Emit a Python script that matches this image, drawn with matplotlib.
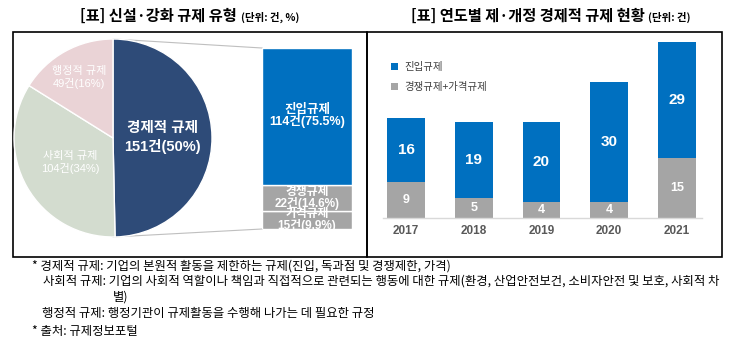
import matplotlib
matplotlib.use('Agg')
import matplotlib.pyplot as plt
from matplotlib.patches import Rectangle
import numpy as np

plt.rcParams['font.family'] = ['Noto Sans CJK KR', 'DejaVu Sans']

# ---------------- data ----------------
pie_labels = ['경제적 규제', '사회적 규제', '행정적 규제']
pie_values = [151, 104, 49]

econ_labels = ['진입규제', '경쟁규제', '가격규제']
econ_values = [114, 22, 15]

years = ['2017', '2018', '2019', '2020', '2021']
entry = [16, 19, 20, 30, 29]
comp_price = [9, 5, 4, 4, 15]
legend_labels = ['진입규제', '경쟁규제+가격규제']

title_left = '[표] 신설·강화 규제 유형'
unit_left = '(단위: 건, %)'
title_right = '[표] 연도별 제·개정 경제적 규제 현황'
unit_right = '(단위: 건)'

notes = [
    '* 경제적 규제: 기업의 본원적 활동을 제한하는 규제(진입, 독과점 및 경쟁제한, 가격)',
    '사회적 규제: 기업의 사회적 역할이나 책임과 직접적으로 관련되는 행동에 대한 규제(환경, 산업안전보건, 소비자안전 및 보호, 사회적 차',
    '별)',
    '행정적 규제: 행정기관이 규제활동을 수행해 나가는 데 필요한 규정',
    '* 출처: 규제정보포털',
]

# ---------------- style ----------------
pie_colors = ['#2E4B78', '#D3DCCF', '#EAD3D6']
blue = '#0070C0'
grey = '#A5A5A5'
num_font = ['Liberation Sans', 'Noto Sans CJK KR']

W, H = 730, 354
fig = plt.figure(figsize=(7.3, 3.54), dpi=100)


def px_axes(x0, y0, x1, y1, **kw):
    return fig.add_axes([x0 / W, 1 - y1 / H, (x1 - x0) / W, (y1 - y0) / H], **kw)


# overlay for boxes, titles, notes
ov = fig.add_axes([0, 0, 1, 1])
ov.set_xlim(0, W)
ov.set_ylim(H, 0)
ov.axis('off')

ov.add_patch(Rectangle((13, 32), 354, 225, fill=False, edgecolor='black', lw=1.2))
ov.add_patch(Rectangle((367, 32), 355, 225, fill=False, edgecolor='black', lw=1.2))

ov.text(237, 16, title_left, ha='right', va='center', fontsize=11, fontweight='bold')
ov.text(241, 17, unit_left, ha='left', va='center', fontsize=7.5, fontweight='bold')
ov.text(645, 16, title_right, ha='right', va='center', fontsize=11, fontweight='bold')
ov.text(648, 17, unit_right, ha='left', va='center', fontsize=7.5, fontweight='bold')

note_pos = [(32, 266), (43, 281), (113, 297), (42, 313), (32, 331)]
for (x, y), t in zip(note_pos, notes):
    ov.text(x, y, t, ha='left', va='center', fontsize=8.9, color='black')

# connector lines
ov.plot([113, 262], [39, 48], color='#BFBFBF', lw=0.8)
ov.plot([113, 262], [237, 229], color='#BFBFBF', lw=0.8)

# ---------------- pie ----------------
pax = px_axes(14, 39, 212, 237)
wedges, _ = pax.pie(pie_values, colors=pie_colors, startangle=90, counterclock=False,
                    wedgeprops=dict(edgecolor='white', linewidth=1))
pax.set_xlim(-1, 1)
pax.set_ylim(-1, 1)
total = sum(pie_values)
label_r = [0.5, 0.5, 0.7]
label_fs = [10.5, 8, 8]
label_fw = ['bold', 'normal', 'normal']
for w, lab, v, r, fs, fw in zip(wedges, pie_labels, pie_values, label_r, label_fs, label_fw):
    ang = np.deg2rad((w.theta1 + w.theta2) / 2)
    pax.text(r * np.cos(ang), r * np.sin(ang), f'{lab}\n{v}건({v / total * 100:.0f}%)',
             ha='center', va='center', color='white', fontsize=fs, fontweight=fw,
             linespacing=1.3, family=num_font)

# ---------------- bar of pie ----------------
bax = px_axes(262, 48, 352, 229)
etotal = sum(econ_values)
bottom = 0
seg_colors = [blue, grey, grey]
seg_fs = [9, 8.5, 8.5]
for lab, v, c, fs in reversed(list(zip(econ_labels, econ_values, seg_colors, seg_fs))):
    bax.bar(0, v, bottom=bottom, width=1, color=c, edgecolor='white', lw=1)
    bax.text(0, bottom + v / 2, f'{lab}\n{v}건({v / etotal * 100:.1f}%)', ha='center',
             va='center', color='white', fontsize=fs, fontweight='bold', linespacing=0.85,
             clip_on=True, family=num_font)
    bottom += v
bax.set_xlim(-0.5, 0.5)
bax.set_ylim(0, etotal)
bax.axis('off')

# ---------------- yearly bars ----------------
rax = px_axes(383, 38, 702, 218)
x = np.arange(len(years))
b2 = rax.bar(x, comp_price, width=0.56, color=grey)
b1 = rax.bar(x, entry, width=0.56, bottom=comp_price, color=blue)
for xi, a, b in zip(x, comp_price, entry):
    rax.text(xi, a / 2, str(a), ha='center', va='center', color='white', fontsize=9,
             fontweight='bold', family=num_font)
    rax.text(xi, a + b / 2, str(b), ha='center', va='center', color='white', fontsize=11,
             fontweight='bold', family=num_font)
rax.set_xlim(-0.34, 4.37)
rax.set_ylim(0, 45)
rax.set_xticks(x)
rax.set_xticklabels(years, fontsize=8.5, fontweight='bold', color='#595959', family=num_font)
rax.set_yticks([])
rax.tick_params(axis='x', length=0, pad=5)
for s in ['top', 'left', 'right']:
    rax.spines[s].set_visible(False)
rax.spines['bottom'].set_color('#D9D9D9')
rax.spines['bottom'].set_linewidth(1)
rax.patch.set_alpha(0)
leg = rax.legend([b1, b2], legend_labels, loc='upper left',
                 bbox_to_anchor=(391 / W, 1 - 62 / H), bbox_transform=fig.transFigure,
                 frameon=False, fontsize=7.5, handlelength=0.7, handleheight=0.7,
                 handletextpad=0.6, labelspacing=1.0, borderpad=0, borderaxespad=0)
for t in leg.get_texts():
    t.set_color('#404040')

fig.savefig('out.png', dpi=100)
